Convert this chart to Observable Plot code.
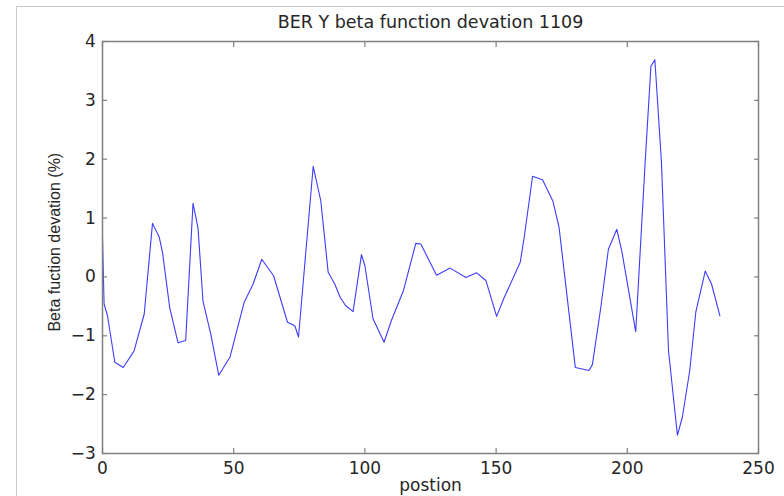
<!DOCTYPE html>
<html><head><meta charset="utf-8">
<script src="https://cdn.jsdelivr.net/npm/d3@7"></script>
<script src="https://cdn.jsdelivr.net/npm/@observablehq/plot@0.6"></script>
<style>
html,body{margin:0;padding:0;background:#fff;}
#wrap{position:relative;width:784px;height:496px;overflow:hidden;}
#frame{position:absolute;left:16px;top:6px;width:800px;height:600px;border-left:1px solid #cacaca;border-top:1px solid #cacaca;pointer-events:none;}
#chart svg{display:block;}
</style></head><body>
<div id="wrap"><div id="frame"></div><div id="chart"></div></div>
<script>
const title = "BER Y beta function devation 1109";
const xLabel = "postion";
const yLabel = "Beta fuction devation (%)";
const xTicks = [0, 50, 100, 150, 200, 250];
const yTicks = [-3, -2, -1, 0, 1, 2, 3, 4];
const position = [0, 0.6, 1.9, 4.7, 7.9, 12.0, 15.9, 19.05, 21.6, 22.9, 25.6, 28.8, 31.7, 34.5, 36.4, 38.3, 41.3, 44.3, 48.6, 54.0, 57.4, 60.7, 65.2, 70.5, 73.3, 74.7, 80.3, 83.2, 86.0, 88.5, 90.6, 92.7, 95.5, 98.7, 100.0, 103.1, 107.3, 110.1, 114.7, 119.4, 121.3, 127.3, 132.5, 138.5, 142.6, 146.1, 150.2, 153.1, 159.2, 160.7, 163.9, 167.7, 171.7, 174.0, 180.2, 185.4, 186.7, 189.9, 192.8, 196.0, 197.9, 203.2, 206.8, 209.0, 210.5, 213.0, 215.7, 219.1, 221.0, 223.8, 226.1, 229.7, 232.1, 235.3];
const deviation = [0.67, -0.46, -0.66, -1.45, -1.54, -1.26, -0.63, 0.91, 0.68, 0.41, -0.52, -1.12, -1.08, 1.25, 0.83, -0.41, -0.98, -1.67, -1.36, -0.43, -0.12, 0.30, 0.02, -0.77, -0.83, -1.02, 1.88, 1.29, 0.08, -0.12, -0.35, -0.49, -0.59, 0.38, 0.19, -0.71, -1.11, -0.74, -0.23, 0.57, 0.56, 0.03, 0.15, -0.01, 0.07, -0.06, -0.67, -0.35, 0.25, 0.67, 1.71, 1.65, 1.28, 0.84, -1.54, -1.59, -1.49, -0.52, 0.47, 0.81, 0.44, -0.93, 1.94, 3.58, 3.69, 1.97, -1.25, -2.69, -2.38, -1.59, -0.60, 0.10, -0.12, -0.66];
const data = position.map((x, i) => ({x, y: deviation[i]}));

const axisColor = "#808080";
const textColor = "#262626";
const fmt = d3.format("d");
const chart = Plot.plot({
  width: 784, height: 496,
  marginLeft: 102, marginRight: 26, marginTop: 41, marginBottom: 43,
  style: {fontFamily: "'DejaVu Sans', sans-serif", fontSize: "17px", background: "transparent", overflow: "visible"},
  x: {domain: [0, 250]},
  y: {domain: [-3, 4]},
  marks: [
    Plot.line(data, {x: "x", y: "y", stroke: "#3c3cff", strokeWidth: 1.1}),
    Plot.frame({stroke: axisColor, strokeWidth: 1.5}),
    Plot.axisX(xTicks, {anchor: "bottom", tickSize: -5, tickPadding: 13.5, tickFormat: fmt, stroke: axisColor, fill: textColor, strokeWidth: 1.2, label: null, fontSize: 17}),
    Plot.axisX(xTicks, {anchor: "top", tickSize: -5, tickFormat: () => "", stroke: axisColor, strokeWidth: 1.2, label: null}),
    Plot.axisY(yTicks, {anchor: "left", tickSize: -5, tickPadding: 11.7, tickFormat: fmt, stroke: axisColor, fill: textColor, strokeWidth: 1.2, label: null, fontSize: 17}),
    Plot.axisY(yTicks, {anchor: "right", tickSize: -5, tickFormat: () => "", stroke: axisColor, strokeWidth: 1.2, label: null}),
    Plot.text([title], {frameAnchor: "top", dy: -19.5, lineAnchor: "middle", textAnchor: "middle", fontSize: 17.5, fill: textColor}),
    Plot.text([xLabel], {frameAnchor: "bottom", dy: 32, lineAnchor: "middle", textAnchor: "middle", fontSize: 17, fill: textColor}),
    Plot.text([yLabel], {frameAnchor: "left", dx: -48, dy: -5.3, rotate: -90, lineAnchor: "middle", textAnchor: "middle", fontSize: 16, fontFamily: "'Liberation Sans', Arial, sans-serif", fill: textColor})
  ]
});
document.getElementById("chart").appendChild(chart);
</script>
</body></html>
